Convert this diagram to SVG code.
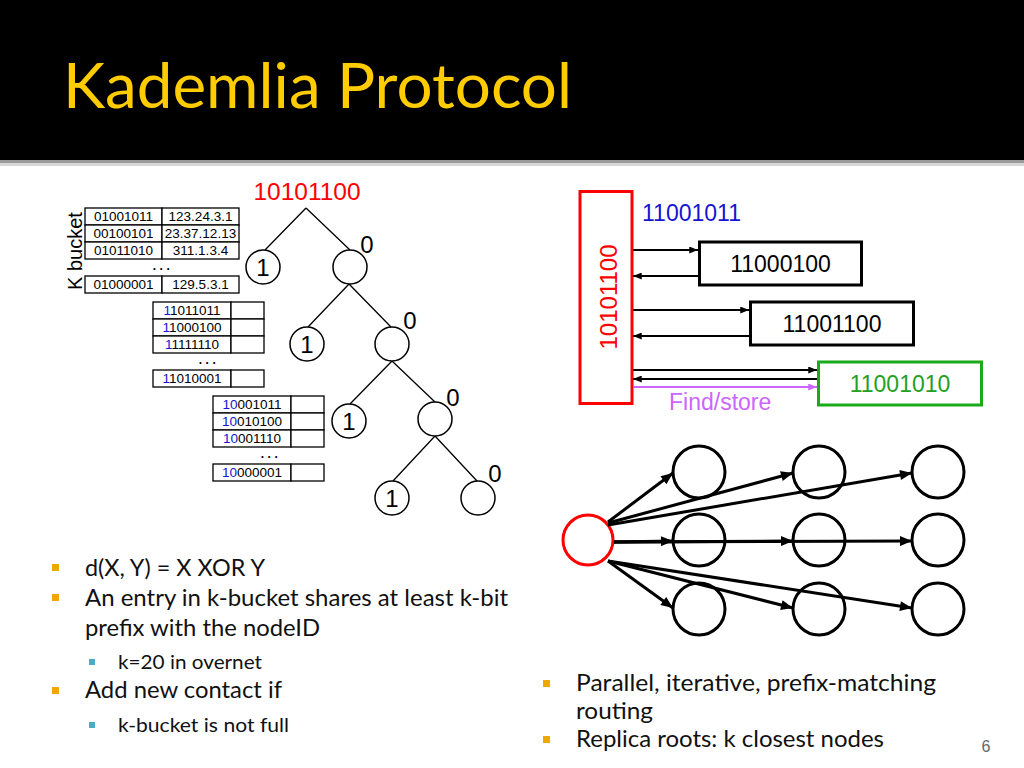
<svg xmlns="http://www.w3.org/2000/svg" width="1024" height="768" viewBox="0 0 1024 768">
<defs>
<style>
.a{font-family:"Liberation Sans",Arial,sans-serif}
.c{font-family:Lato,"Open Sans",sans-serif}
.cell{fill:#fff;stroke:#000;stroke-width:1.3}
.t13{font-size:13.5px;fill:#000;text-anchor:middle}
.b{fill:#1414d2}
.dots{font-size:12px;font-weight:bold;text-anchor:middle;letter-spacing:3.5px}
.tc{fill:#fff;stroke:#000;stroke-width:1.5}
.tl{stroke:#000;stroke-width:1.3;fill:none}
.lab{font-size:24px;text-anchor:middle}
.box{fill:#fff;stroke-width:3}
.ar{stroke:#000;stroke-width:2;fill:none}
.gc{fill:none;stroke:#000;stroke-width:3}
.ga{stroke:#000;stroke-width:3;fill:none}
.bt{font-size:23px;fill:#111}
.st{font-size:20px;fill:#111}
.ob{fill:#f0a800}
.sb{fill:#4bacc6}
</style>
<marker id="ah" viewBox="0 0 10 8" refX="10" refY="4" markerWidth="9" markerHeight="7" markerUnits="userSpaceOnUse" orient="auto"><path d="M0,0L10,4L0,8z" fill="#000"/></marker>
<marker id="ahp" viewBox="0 0 10 8" refX="10" refY="4" markerWidth="9" markerHeight="7" markerUnits="userSpaceOnUse" orient="auto"><path d="M0,0L10,4L0,8z" fill="#cc66ff"/></marker>
<marker id="ahb" viewBox="0 0 12 10" refX="12" refY="5" markerWidth="13" markerHeight="10" markerUnits="userSpaceOnUse" orient="auto"><path d="M0,0L12,5L0,10z" fill="#000"/></marker>
</defs>
<rect width="1024" height="768" fill="#fff"/>
<g id="header">
<rect x="0" y="0" width="1024" height="160" fill="#000"/>
<rect x="0" y="160" width="1024" height="3" fill="#9a9a9a"/>
<rect x="0" y="163" width="1024" height="3" fill="#d8d8d8"/>
<text class="c" x="63" y="108" font-size="61" fill="#ffcc00" textLength="509" lengthAdjust="spacingAndGlyphs">Kademlia Protocol</text>
</g>

<g id="kbucket-label">
<text class="a" transform="translate(82,251) rotate(-90)" font-size="20" text-anchor="middle">K bucket</text>
</g>

<g id="table1">
<rect class="cell" x="85" y="208" width="77" height="17"/><rect class="cell" x="162" y="208" width="77" height="17"/>
<rect class="cell" x="85" y="225" width="77" height="17"/><rect class="cell" x="162" y="225" width="77" height="17"/>
<rect class="cell" x="85" y="242" width="77" height="17"/><rect class="cell" x="162" y="242" width="77" height="17"/>
<rect class="cell" x="85" y="276" width="77" height="17"/><rect class="cell" x="162" y="276" width="77" height="17"/>
<text class="a t13" x="123.5" y="221">01001011</text><text class="a t13" x="200.5" y="221">123.24.3.1</text>
<text class="a t13" x="123.5" y="238">00100101</text><text class="a t13" x="200.5" y="238">23.37.12.13</text>
<text class="a t13" x="123.5" y="255">01011010</text><text class="a t13" x="200.5" y="255">311.1.3.4</text>
<text class="a dots" x="163" y="270">...</text>
<text class="a t13" x="123.5" y="289">01000001</text><text class="a t13" x="200.5" y="289">129.5.3.1</text>
</g>

<g id="table2">
<rect class="cell" x="153" y="302" width="78" height="17"/><rect class="cell" x="231" y="302" width="33" height="17"/>
<rect class="cell" x="153" y="319" width="78" height="17"/><rect class="cell" x="231" y="319" width="33" height="17"/>
<rect class="cell" x="153" y="336" width="78" height="17"/><rect class="cell" x="231" y="336" width="33" height="17"/>
<rect class="cell" x="153" y="370" width="78" height="17"/><rect class="cell" x="231" y="370" width="33" height="17"/>
<text class="a t13" x="192" y="315"><tspan class="b">1</tspan>1011011</text>
<text class="a t13" x="192" y="332"><tspan class="b">1</tspan>1000100</text>
<text class="a t13" x="192" y="349"><tspan class="b">1</tspan>1111110</text>
<text class="a dots" x="209" y="364">...</text>
<text class="a t13" x="192" y="383"><tspan class="b">1</tspan>1010001</text>
</g>

<g id="table3">
<rect class="cell" x="213" y="396" width="78" height="17"/><rect class="cell" x="291" y="396" width="33" height="17"/>
<rect class="cell" x="213" y="413" width="78" height="17"/><rect class="cell" x="291" y="413" width="33" height="17"/>
<rect class="cell" x="213" y="430" width="78" height="17"/><rect class="cell" x="291" y="430" width="33" height="17"/>
<rect class="cell" x="213" y="464" width="78" height="17"/><rect class="cell" x="291" y="464" width="33" height="17"/>
<text class="a t13" x="252" y="409"><tspan class="b">10</tspan>001011</text>
<text class="a t13" x="252" y="426"><tspan class="b">10</tspan>010100</text>
<text class="a t13" x="252" y="443"><tspan class="b">10</tspan>001110</text>
<text class="a dots" x="271" y="458">...</text>
<text class="a t13" x="252" y="477"><tspan class="b">10</tspan>000001</text>
</g>

<g id="tree-edges">
<path class="tl" d="M306,208L265,250M306,208L350,250"/>
<path class="tl" d="M349,284L308,327M349,284L391,327"/>
<path class="tl" d="M392,361L350,404M392,361L435,402"/>
<path class="tl" d="M435,436L393,481M435,436L477,481"/>
</g>
<g id="tree-root"><text class="a" x="307" y="200" font-size="24.5" fill="#ff0000" text-anchor="middle">10101100</text></g>
<g id="tree-n1"><circle class="tc" cx="263" cy="267" r="17"/><text class="a lab" x="263" y="276">1</text></g>
<g id="tree-n0"><circle class="tc" cx="350" cy="267" r="17"/><text class="a lab" x="367" y="253">0</text></g>
<g id="tree-n01"><circle class="tc" cx="307" cy="344" r="17"/><text class="a lab" x="307" y="353">1</text></g>
<g id="tree-n00"><circle class="tc" cx="392" cy="344" r="17"/><text class="a lab" x="410" y="329">0</text></g>
<g id="tree-n001"><circle class="tc" cx="349" cy="421" r="17"/><text class="a lab" x="349" y="430">1</text></g>
<g id="tree-n000"><circle class="tc" cx="435" cy="419" r="17"/><text class="a lab" x="453" y="406">0</text></g>
<g id="tree-n0001"><circle class="tc" cx="392" cy="498" r="17"/><text class="a lab" x="392" y="507">1</text></g>
<g id="tree-n0000"><circle class="tc" cx="478" cy="498" r="17"/><text class="a lab" x="495" y="482">0</text></g>

<g id="lookup-source">
<rect class="box" x="580" y="191.5" width="52" height="212" stroke="#ff0000"/>
<text class="a" transform="translate(617,297) rotate(-90)" font-size="24" fill="#ff0000" text-anchor="middle">10101100</text>
</g>
<g id="lookup-target"><text class="a" x="642" y="221" font-size="23" fill="#1414d2">11001011</text></g>
<g id="lookup-box1"><rect class="box" x="699.5" y="242" width="162" height="43" stroke="#000"/><text class="a" x="780.5" y="272" font-size="23" text-anchor="middle">11000100</text></g>
<g id="lookup-box2"><rect class="box" x="750.5" y="302" width="163" height="43" stroke="#000"/><text class="a" x="832" y="332" font-size="23" text-anchor="middle">11001100</text></g>
<g id="lookup-box3"><rect class="box" x="818.5" y="362" width="163" height="43" stroke="#1aaa1a"/><text class="a" x="900" y="392" font-size="23" fill="#22a022" text-anchor="middle">11001010</text></g>
<g id="lookup-connectors">
<line class="ar" x1="633" y1="250" x2="698" y2="250" marker-end="url(#ah)"/>
<line class="ar" x1="698" y1="276" x2="633" y2="276" marker-end="url(#ah)"/>
<line class="ar" x1="633" y1="310" x2="749" y2="310" marker-end="url(#ah)"/>
<line class="ar" x1="749" y1="336" x2="633" y2="336" marker-end="url(#ah)"/>
<line class="ar" x1="633" y1="370" x2="817" y2="370" marker-end="url(#ah)"/>
<line class="ar" x1="817" y1="379" x2="633" y2="379" marker-end="url(#ah)"/>
<line x1="633" y1="387" x2="817" y2="387" stroke="#cc66ff" stroke-width="2" marker-end="url(#ahp)"/>
<text class="a" x="669" y="410" font-size="23" fill="#cc66ff">Find/store</text>
</g>

<g id="graph-source"><circle cx="588" cy="540" r="25" fill="none" stroke="#ff0000" stroke-width="3"/></g>
<g id="graph-r1c1"><circle class="gc" cx="699" cy="472" r="26"/></g>
<g id="graph-r1c2"><circle class="gc" cx="819" cy="472" r="26"/></g>
<g id="graph-r1c3"><circle class="gc" cx="938" cy="472" r="26"/></g>
<g id="graph-r2c1"><circle class="gc" cx="699" cy="540" r="26"/></g>
<g id="graph-r2c2"><circle class="gc" cx="819" cy="540" r="26"/></g>
<g id="graph-r2c3"><circle class="gc" cx="938" cy="540" r="26"/></g>
<g id="graph-r3c1"><circle class="gc" cx="699" cy="609" r="26"/></g>
<g id="graph-r3c2"><circle class="gc" cx="819" cy="609" r="26"/></g>
<g id="graph-r3c3"><circle class="gc" cx="938" cy="609" r="26"/></g>
<g id="graph-connectors">
<line class="ga" x1="608" y1="522" x2="673" y2="473" marker-end="url(#ahb)"/>
<line class="ga" x1="608" y1="523" x2="793" y2="473" marker-end="url(#ahb)"/>
<line class="ga" x1="608" y1="525" x2="912" y2="473" marker-end="url(#ahb)"/>
<line class="ga" x1="614" y1="542" x2="673" y2="541" marker-end="url(#ahb)"/>
<line class="ga" x1="614" y1="542" x2="793" y2="541" marker-end="url(#ahb)"/>
<line class="ga" x1="614" y1="542" x2="912" y2="541" marker-end="url(#ahb)"/>
<line class="ga" x1="608" y1="561" x2="673" y2="608" marker-end="url(#ahb)"/>
<line class="ga" x1="608" y1="561" x2="793" y2="608" marker-end="url(#ahb)"/>
<line class="ga" x1="608" y1="561" x2="912" y2="608" marker-end="url(#ahb)"/>
</g>

<g id="bullets-left">
<rect class="ob" x="52" y="564" width="7" height="7"/>
<text class="c bt" x="85" y="576" textLength="180" lengthAdjust="spacingAndGlyphs">d(X, Y) = X  XOR Y</text>
<rect class="ob" x="52" y="594" width="7" height="7"/>
<text class="c bt" x="85" y="606" textLength="423" lengthAdjust="spacingAndGlyphs">An entry in k-bucket shares at least k-bit</text>
<text class="c bt" x="85" y="636" textLength="235" lengthAdjust="spacingAndGlyphs">prefix with the nodeID</text>
<rect class="sb" x="89" y="659" width="6" height="6"/>
<text class="c st" x="118" y="669" textLength="144" lengthAdjust="spacingAndGlyphs">k=20 in overnet</text>
<rect class="ob" x="52" y="687" width="7" height="7"/>
<text class="c bt" x="85" y="698" textLength="197" lengthAdjust="spacingAndGlyphs">Add new contact if</text>
<rect class="sb" x="89" y="722" width="6" height="6"/>
<text class="c st" x="118" y="732" textLength="171" lengthAdjust="spacingAndGlyphs">k-bucket is not full</text>
</g>
<g id="bullets-right">
<rect class="ob" x="543" y="680" width="7" height="7"/>
<text class="c bt" x="576" y="691" textLength="360" lengthAdjust="spacingAndGlyphs">Parallel, iterative, prefix-matching</text>
<text class="c bt" x="576" y="719" textLength="77" lengthAdjust="spacingAndGlyphs">routing</text>
<rect class="ob" x="543" y="736" width="7" height="7"/>
<text class="c bt" x="576" y="747" textLength="308" lengthAdjust="spacingAndGlyphs">Replica roots: k closest nodes</text>
</g>
<g id="page-number"><text class="a" x="986" y="752" font-size="16" fill="#666" text-anchor="middle">6</text></g>
</svg>
